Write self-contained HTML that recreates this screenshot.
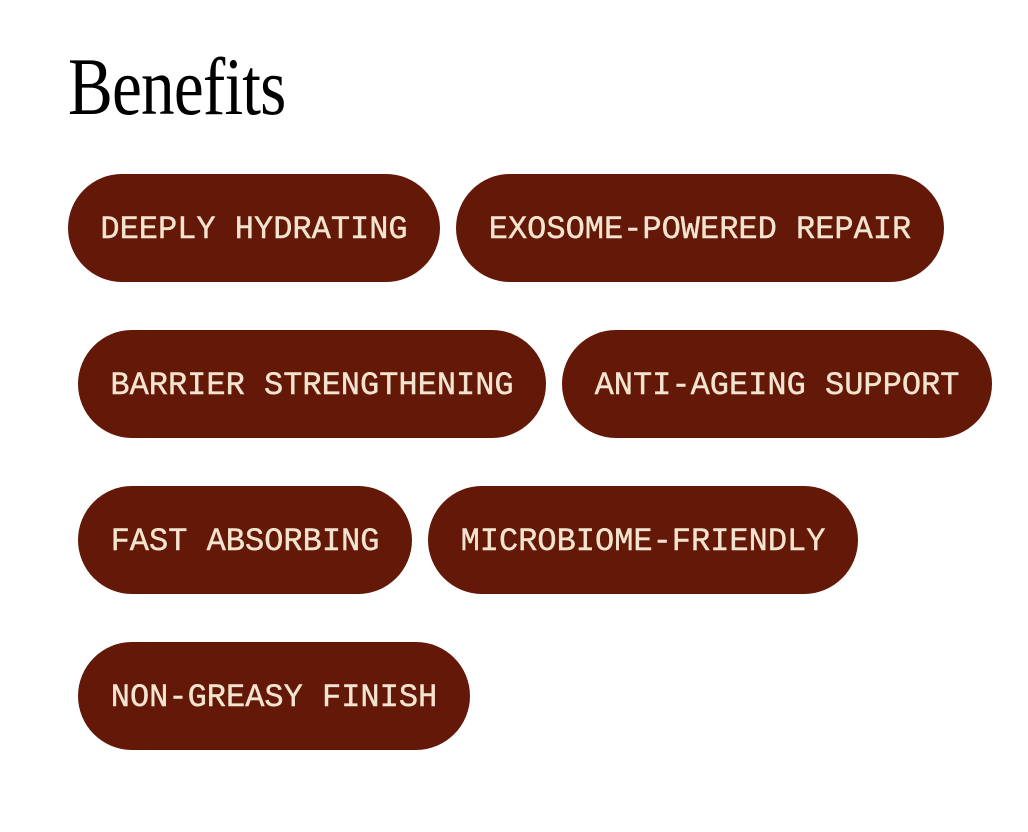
<!DOCTYPE html>
<html><head><meta charset="utf-8"><style>
html,body{margin:0;padding:0;background:#fff;width:1028px;height:832px;overflow:hidden;position:relative}
h1{position:absolute;left:68px;top:32px;margin:0;font-family:"Liberation Serif",serif;font-weight:400;font-size:82px;line-height:110px;transform:scaleX(0.82);transform-origin:0 0;color:#000;letter-spacing:-1px}
.p{position:absolute;height:108px;border-radius:54px;background:#641808;color:#f3e4cf;font-family:"Liberation Mono",monospace;font-size:32px;line-height:112px;text-align:center;white-space:nowrap;-webkit-text-stroke:0.4px #f3e4cf}
</style></head><body>
<h1>Benefits</h1>
<div class="p" style="left:68px;top:174px;width:372px">DEEPLY HYDRATING</div>
<div class="p" style="left:456px;top:174px;width:488px">EXOSOME-POWERED REPAIR</div>
<div class="p" style="left:78px;top:330px;width:468px">BARRIER STRENGTHENING</div>
<div class="p" style="left:562px;top:330px;width:430px">ANTI-AGEING SUPPORT</div>
<div class="p" style="left:78px;top:486px;width:334px">FAST ABSORBING</div>
<div class="p" style="left:428px;top:486px;width:430px">MICROBIOME-FRIENDLY</div>
<div class="p" style="left:78px;top:642px;width:392px">NON-GREASY FINISH</div>
</body></html>
